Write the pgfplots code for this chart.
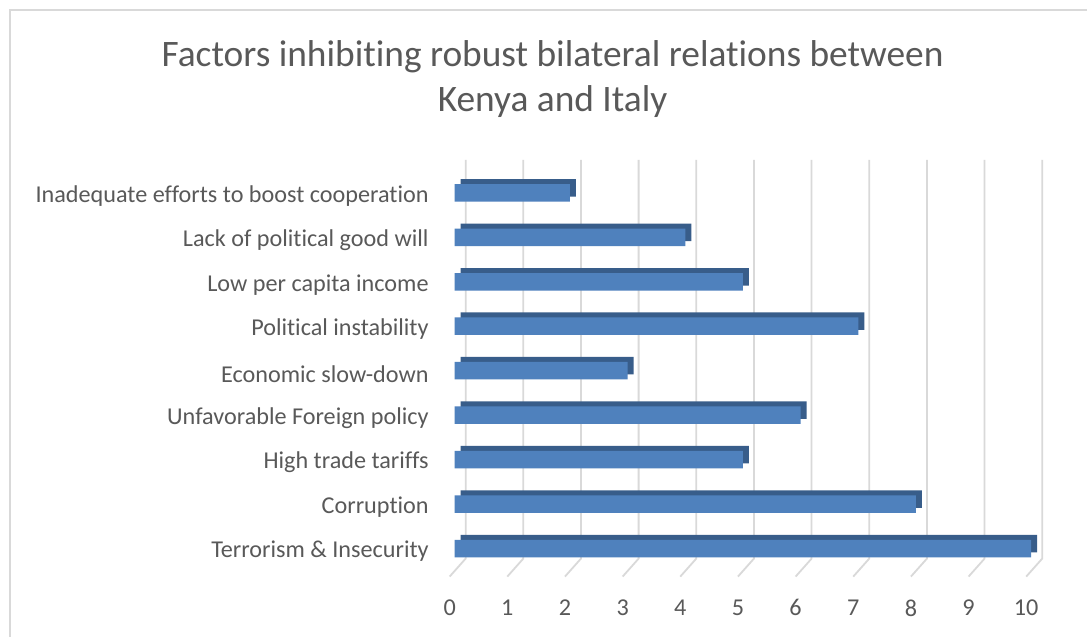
\documentclass[border=0pt]{standalone}
\usepackage{pgfplots}
\pgfplotsset{compat=1.18}
\usepackage{fontspec}
\setmainfont{Carlito}[Ligatures=NoCommon]
\definecolor{barfront}{HTML}{4F81BD}
\definecolor{barside}{HTML}{385D8A}
\definecolor{gridc}{HTML}{D9D9D9}
\definecolor{txt}{HTML}{595959}
\begin{document}
\begin{tikzpicture}
% chart area, 1px = 0.5pt
\fill[white] (0,0) rectangle (544pt,318.5pt);
\draw[gridc, line width=0.8pt] (5pt,0) -- (5pt,313.5pt) -- (544pt,313.5pt);
\node[txt, align=center, font=\fontsize{18.7}{22.5}\selectfont] at (276.5pt,279pt)
  {Factors inhibiting robust bilateral relations between\\Kenya and Italy};
\begin{axis}[
  at={(225pt,30pt)}, anchor=south west,
  scale only axis, width=288.5pt, height=199.5pt,
  xmin=0, xmax=10, ymin=-0.63, ymax=8.337,
  axis line style={draw=none}, major tick length=0pt, clip=false,
  xtick={0,...,10}, ytick={0,...,8},
  yticklabels={Terrorism \& Insecurity, Corruption, High trade tariffs,
    Unfavorable Foreign policy, Economic slow-down, Political instability,
    Low per capita income, Lack of political good will,
    Inadequate efforts to boost cooperation},
  /pgf/number format/assume math mode=true,
  ticklabel style={font=\fontsize{12.1}{14}\selectfont, text=txt},
  xticklabel style={yshift=-8pt},
  yticklabel style={xshift=-7pt, yshift=-1.5pt},
  xbar, bar width=8.75pt, bar shift=0pt,
]
\pgfplotsinvokeforeach{0,...,10}{
  \draw[gridc, line width=0.9pt] (axis cs:#1,-0.63) -- ++(8pt,9pt)
    -- ([shift={(8pt,9pt)}]axis cs:#1,8.337);
}
\addplot[draw=none, fill=barside, xshift=5.5pt, yshift=2.5pt] coordinates {
  (10,0) (8,1) (5,2) (6,3) (3,4) (7,5) (5,6) (4,7) (2,8)};
\addplot[draw=none, fill=barfront, xshift=2.5pt] coordinates {
  (10,0) (8,1) (5,2) (6,3) (3,4) (7,5) (5,6) (4,7) (2,8)};
\end{axis}
\end{tikzpicture}
\end{document}
